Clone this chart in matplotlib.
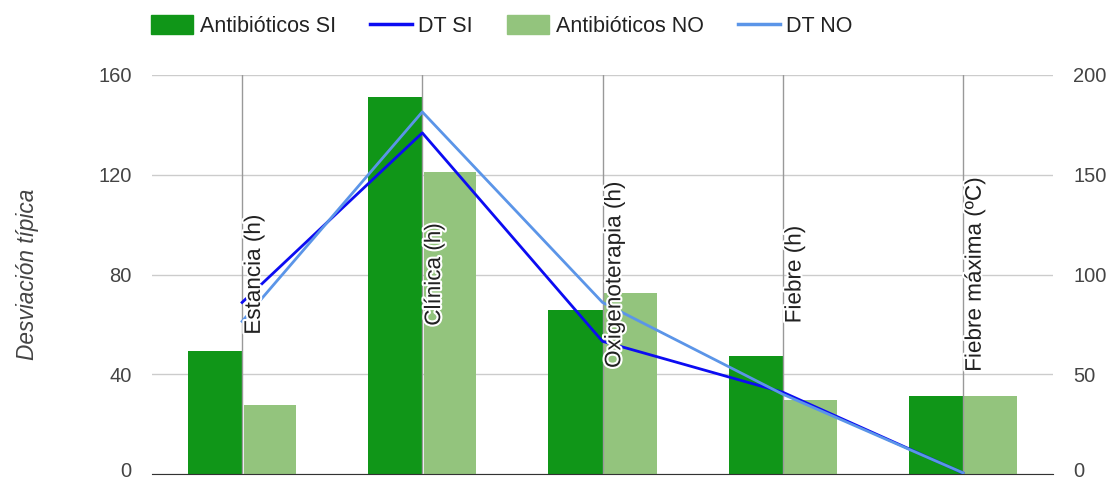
import matplotlib

matplotlib.use("Agg")
import matplotlib.pyplot as plt
import matplotlib.patheffects as pe
from matplotlib.lines import Line2D
from matplotlib.patches import Patch
from matplotlib.transforms import ScaledTranslation, blended_transform_factory

plt.rcParams["font.family"] = ["Liberation Sans", "DejaVu Sans"]

categorias = ["Estancia (h)", "Clínica (h)", "Oxigenoterapia (h)", "Fiebre (h)", "Fiebre máxima (ºC)"]
antib_si = [49.3, 151.0, 65.7, 47.3, 31.1]
antib_no = [27.6, 121.3, 72.7, 29.7, 31.1]
dt_si = [86.0, 171.0, 66.5, 41.0, 0.5]
dt_no = [76.5, 181.5, 86.0, 40.0, 0.6]

VERDE = "#109618"
VERDE_CLARO = "#93c47d"
AZUL = "#0c0cf2"
AZUL_CLARO = "#5b95e8"
GRIS = "#444444"

fig = plt.figure(figsize=(11.12, 4.83), dpi=100)
ax = fig.add_axes([152 / 1112, 1 - 474 / 483, (1053 - 152) / 1112, (474 - 75) / 483])
ax2 = ax.twinx()

x = list(range(len(categorias)))
ancho = 0.3
ax.bar([i - ancho / 2 for i in x], antib_si, ancho, color=VERDE, zorder=2)
ax.bar([i + ancho / 2 + 0.004 for i in x], antib_no, ancho - 0.008, color=VERDE_CLARO, zorder=2)

ax.set_xlim(-0.5, len(categorias) - 0.5)
ax.set_ylim(0, 160)
ax.set_yticks([0, 40, 80, 120, 160])
ax.set_xticks([])
ax.grid(axis="y", color="#cccccc", linewidth=1, zorder=0)
for i in x:
    ax.axvline(i, color="#999999", linewidth=1, zorder=3)
for s in ["top", "right", "left"]:
    ax.spines[s].set_visible(False)
ax.spines["bottom"].set_color("#333333")
ax.tick_params(axis="y", length=0, pad=14.5, labelsize=14.5, labelcolor=GRIS)
ax.set_ylabel("Desviación típica", fontsize=16.3, style="italic", color=GRIS, labelpad=43)

ax2.plot(x, dt_si, color=AZUL, linewidth=2, zorder=4)
ax2.plot(x, dt_no, color=AZUL_CLARO, linewidth=2, zorder=4)
ax2.set_ylim(0, 200)
ax2.set_yticks([0, 50, 100, 150, 200])
for s in ["top", "right", "left", "bottom"]:
    ax2.spines[s].set_visible(False)
ax2.tick_params(axis="y", length=0, pad=14.5, labelsize=14.5, labelcolor=GRIS)

# el "0" de abajo queda pegado al borde: subirlo un poco
subir = ScaledTranslation(0, 3 / 72, fig.dpi_scale_trans)
for etq in (ax.get_yticklabels()[0], ax2.get_yticklabels()[0]):
    etq.set_transform(etq.get_transform() + subir)

trans = blended_transform_factory(ax2.transData, ax2.transAxes)
for i, etiqueta in zip(x, categorias):
    ax2.text(i + 0.01, 0.5, etiqueta, rotation=90, ha="left", va="center",
             fontsize=16.2, color="#222222", transform=trans, zorder=6,
             path_effects=[pe.withStroke(linewidth=3, foreground="white")])

handles = [
    Patch(color=VERDE),
    Line2D([], [], color=AZUL, linewidth=2.5),
    Patch(color=VERDE_CLARO),
    Line2D([], [], color=AZUL_CLARO, linewidth=2.5),
]
nombres = ["Antibióticos SI", "DT SI", "Antibióticos NO", "DT NO"]
fig.legend(handles, nombres, loc="center left", bbox_to_anchor=(132 / 1112, 1 - 26 / 483),
           ncol=4, frameon=False, fontsize=15.5, handlelength=1.94, handleheight=1.0,
           columnspacing=1.6, handletextpad=0.3, labelcolor="#222222")

fig.savefig("out.png", dpi=100)
